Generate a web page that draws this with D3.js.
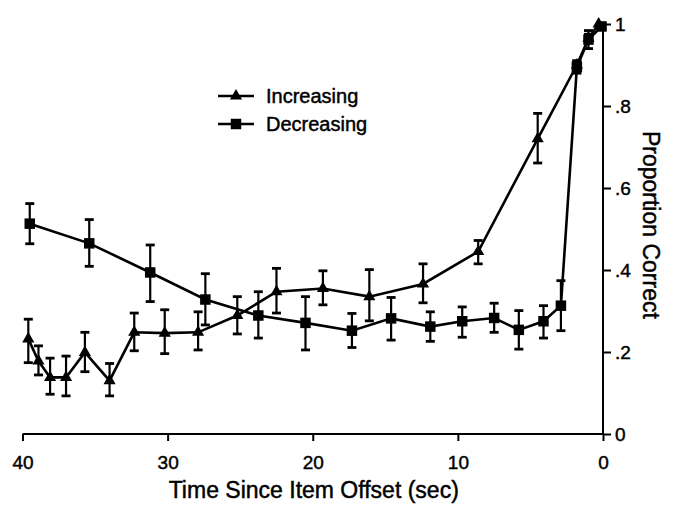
<!DOCTYPE html>
<html>
<head>
<meta charset="utf-8">
<script src="https://cdn.jsdelivr.net/npm/d3@7"></script>
<style>
  body { margin: 0; background: #fff; }
  svg { font-family: "Liberation Sans", Arial, sans-serif; }
  svg text { fill: #000; stroke: #000; stroke-width: 0.45px; }
  .axis path, .axis line { stroke: #000; stroke-width: 2; }
  .axis text { font-size: 19px; }
</style>
</head>
<body>
<svg class="chart"></svg>
<script>
// values (time in sec before offset, proportion correct)
var incTime = [39.6, 38.9, 38.1, 37.0, 35.7, 34.0, 32.3, 30.2, 27.9, 25.2, 22.5, 19.3, 16.1, 12.4, 8.6, 4.5, 1.8, 1.0, 0.3];
var incMean = [0.232, 0.178, 0.138, 0.138, 0.199, 0.130, 0.248, 0.246, 0.248, 0.289, 0.347, 0.355, 0.335, 0.366, 0.445, 0.720, 0.900, 0.965, 1.000];
var incHi   = [0.280, 0.215, 0.185, 0.190, 0.248, 0.172, 0.295, 0.303, 0.298, 0.335, 0.404, 0.398, 0.401, 0.415, 0.472, 0.782, 0.910, 0.975, 1.000];
var incLo   = [0.174, 0.144, 0.097, 0.093, 0.152, 0.093, 0.203, 0.196, 0.205, 0.244, 0.295, 0.315, 0.276, 0.320, 0.415, 0.661, 0.890, 0.955, 1.000];

var decTime = [39.5, 35.4, 31.2, 27.4, 23.75, 20.5, 17.3, 14.6, 11.9, 9.7, 7.5, 5.8, 4.1, 2.9, 1.8, 1.0, 0.1];
var decMean = [0.513, 0.465, 0.394, 0.328, 0.289, 0.271, 0.252, 0.282, 0.262, 0.275, 0.283, 0.254, 0.275, 0.313, 0.895, 0.962, 0.994];
var decHi   = [0.562, 0.523, 0.461, 0.391, 0.347, 0.335, 0.294, 0.333, 0.298, 0.310, 0.319, 0.301, 0.313, 0.374, 0.910, 0.984, 1.000];
var decLo   = [0.464, 0.409, 0.323, 0.266, 0.234, 0.205, 0.211, 0.229, 0.226, 0.236, 0.248, 0.207, 0.234, 0.252, 0.880, 0.940, 0.990];

var xTicks = [40, 30, 20, 10, 0];
var yTicks = [0, 0.2, 0.4, 0.6, 0.8, 1];
var yTickLabels = ["0", ".2", ".4", ".6", ".8", "1"];
var seriesNames = ["Increasing", "Decreasing"];

var width = 673, height = 505;
var margin = {top: 24, right: 70, bottom: 71, left: 22.5};

var chart = d3.select(".chart")
    .attr("width", width)
    .attr("height", height);

var xScale = d3.scaleLinear()
    .domain([40, 0])
    .range([margin.left, width - margin.right]);

var yScale = d3.scaleLinear()
    .domain([0, 1])
    .range([height - margin.bottom, margin.top]);

function makeRows(t, m, hi, lo) {
  return t.map(function(d, i) { return {time: d, value: m[i], hi: hi[i], lo: lo[i]}; });
}
var series = [
  {name: seriesNames[0], shape: d3.symbolTriangle, size: 64, rows: makeRows(incTime, incMean, incHi, incLo)},
  {name: seriesNames[1], shape: d3.symbolSquare, size: 110, rows: makeRows(decTime, decMean, decHi, decLo)}
];

// axes
chart.append("g")
    .attr("class", "axis x")
    .attr("transform", "translate(0," + yScale(0) + ")")
    .call(d3.axisBottom(xScale).tickValues(xTicks).tickSize(7).tickPadding(15).tickSizeOuter(0))
    .call(function(g) { g.select(".domain").attr("d", "M" + xScale(40) + ",0H" + xScale(0)); });

chart.append("g")
    .attr("class", "axis y")
    .attr("transform", "translate(" + xScale(0) + ",0)")
    .call(d3.axisRight(yScale).tickValues(yTicks).tickSize(8).tickPadding(4).tickSizeOuter(0)
      .tickFormat(function(d, i) { return yTickLabels[i]; }))
    .call(function(g) { g.select(".domain").attr("d", "M0," + yScale(1) + "V" + yScale(0)); });

chart.append("text")
    .attr("x", (xScale(40) + xScale(0)) / 2 + 1)
    .attr("y", 498)
    .attr("text-anchor", "middle")
    .style("font-size", "23px")
    .text("Time Since Item Offset (sec)");

chart.append("text")
    .attr("transform", "translate(643," + yScale(0.51) + ") rotate(90)")
    .attr("text-anchor", "middle")
    .style("font-size", "23px")
    .text("Proportion Correct");

var line = d3.line()
    .x(function(d) { return xScale(d.time); })
    .y(function(d) { return yScale(d.value); });

series.forEach(function(s) {
  var g = chart.append("g");

  // error bars
  var err = g.selectAll(".err")
      .data(s.rows.filter(function(d) { return d.hi - d.lo > 0.01; }))
    .enter().append("g")
      .attr("stroke", "#000");
  err.append("line")
      .attr("x1", function(d) { return xScale(d.time); })
      .attr("x2", function(d) { return xScale(d.time); })
      .attr("y1", function(d) { return yScale(d.hi); })
      .attr("y2", function(d) { return yScale(d.lo); })
      .attr("stroke-width", 2.2);
  ["hi", "lo"].forEach(function(k) {
    err.append("line")
        .attr("x1", function(d) { return xScale(d.time) - 4.5; })
        .attr("x2", function(d) { return xScale(d.time) + 4.5; })
        .attr("y1", function(d) { return yScale(d[k]); })
        .attr("y2", function(d) { return yScale(d[k]); })
        .attr("stroke-width", 2.8);
  });

  g.append("path")
      .datum(s.rows)
      .attr("fill", "none")
      .attr("stroke", "#000")
      .attr("stroke-width", 2.6)
      .attr("d", line);

  g.selectAll(".pt")
      .data(s.rows)
    .enter().append("path")
      .attr("transform", function(d) { return "translate(" + xScale(d.time) + "," + yScale(d.value) + ")"; })
      .attr("d", d3.symbol().type(s.shape).size(s.size))
      .attr("fill", "#000");
});

// legend
var legend = chart.append("g").attr("transform", "translate(218,96)");
series.forEach(function(s, i) {
  var row = legend.append("g").attr("transform", "translate(0," + (i * 28) + ")");
  row.append("line")
      .attr("x1", 0).attr("x2", 36)
      .attr("stroke", "#000").attr("stroke-width", 2.6);
  row.append("path")
      .attr("transform", "translate(18,0)")
      .attr("d", d3.symbol().type(s.shape).size(s.size))
      .attr("fill", "#000");
  row.append("text")
      .attr("x", 48)
      .attr("dy", "0.35em")
      .style("font-size", "20px")
      .text(s.name);
});
</script>
</body>
</html>
